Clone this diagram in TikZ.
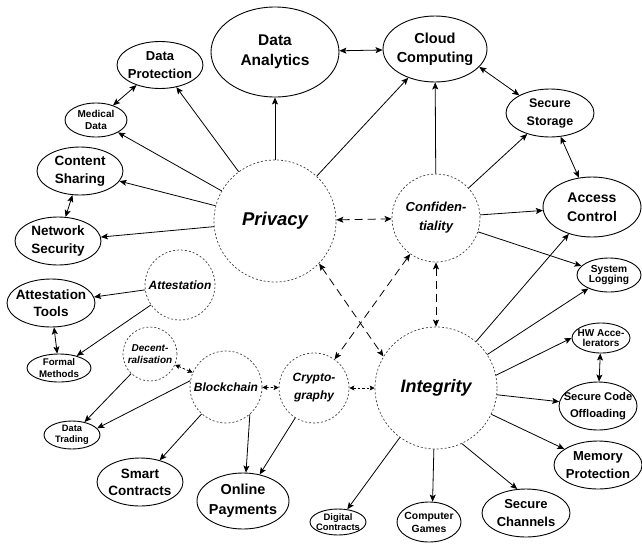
\documentclass[tikz,border=0pt]{standalone}
\usepackage{fontspec}
\setmainfont{Liberation Sans}
\usetikzlibrary{shapes.geometric,arrows.meta}
\newcommand\fsz[2]{\fontsize{#1}{#2}\selectfont}
\tikzset{
  ell/.style={ellipse, draw, line width=0.9pt, inner sep=-20pt, align=center, font=\bfseries},
  topic/.style={circle, draw=black!75, line width=0.7pt, dash pattern=on 2pt off 2pt, inner sep=-20pt, align=center, font=\bfseries\itshape},
  arr/.style={line width=0.8pt, -{Stealth[length=7pt,width=6pt,inset=1.5pt]}},
  darr/.style={line width=0.8pt, {Stealth[length=7pt,width=6pt,inset=1.5pt]}-{Stealth[length=7pt,width=6pt,inset=1.5pt]}},
  dasharr/.style={line width=0.8pt, dash pattern=on 8pt off 5pt, {Stealth[length=7pt,width=6pt,inset=1.5pt]}-{Stealth[length=7pt,width=6pt,inset=1.5pt]}},
  dotarr/.style={line width=0.8pt, dash pattern=on 2.5pt off 2pt, {Stealth[length=5pt,width=5pt,inset=1pt]}-{Stealth[length=5pt,width=5pt,inset=1pt]}},
}
\begin{document}
\begin{tikzpicture}[x=1pt,y=-1pt]
\useasboundingbox (0,0) rectangle (642,544);
% topic circles
\node[topic, minimum size=122pt, font=\bfseries\itshape\fsz{18.5}{22}] (priv) at (275,221) {Privacy};
\node[topic, minimum size=122pt, font=\bfseries\itshape\fsz{18}{22}] (integ) at (436,388) {Integrity};
\node[topic, minimum size=88pt, font=\bfseries\itshape\fsz{13}{19}] (conf) at (436,218) {Confiden-\\tiality};
\node[topic, minimum size=70pt, font=\bfseries\itshape\fsz{12}{14}] (att) at (180,285) {Attestation};
\node[topic, minimum size=54pt, font=\bfseries\itshape\fsz{10}{11.5}] (dec) at (150,354) {Decent-\\ralisation};
\node[topic, minimum size=72pt, font=\bfseries\itshape\fsz{12}{14}] (bc) at (226,387) {Blockchain};
\node[topic, minimum size=70pt, font=\bfseries\itshape\fsz{12}{18}] (cr) at (314,388) {Crypto-\\graphy};
% ellipses
\node[ell, minimum width=128pt, minimum height=90pt, font=\bfseries\fsz{15.5}{20}] (da) at (275,52) {Data\\Analytics};
\node[ell, minimum width=104pt, minimum height=66pt, font=\bfseries\fsz{14.5}{19}] (cc) at (435,49) {Cloud\\Computing};
\node[ell, minimum width=86pt, minimum height=47pt, font=\bfseries\fsz{13}{17.5}] (dp) at (160,65) {Data\\Protection};
\node[ell, minimum width=62pt, minimum height=34pt, font=\bfseries\fsz{10}{12}] (md) at (96,120) {Medical\\Data};
\node[ell, minimum width=86pt, minimum height=48pt, font=\bfseries\fsz{13.5}{18}] (cs) at (80,171) {Content\\Sharing};
\node[ell, minimum width=86pt, minimum height=48pt, font=\bfseries\fsz{13.5}{18}] (ns) at (58,241) {Network\\Security};
\node[ell, minimum width=88pt, minimum height=48pt, font=\bfseries\fsz{13.5}{17.5}] (at) at (51,303) {Attestation\\Tools};
\node[ell, minimum width=64pt, minimum height=28pt, font=\bfseries\fsz{9.7}{11.5}] (fm) at (59,368) {Formal\\Methods};
\node[ell, minimum width=88pt, minimum height=48pt, font=\bfseries\fsz{12.5}{18}] (ss) at (550,113) {Secure\\Storage};
\node[ell, minimum width=98pt, minimum height=60pt, font=\bfseries\fsz{14}{19.5}] (ac) at (592,207) {Access\\Control};
\node[ell, minimum width=64pt, minimum height=34pt, font=\bfseries\fsz{10.2}{10.5}] (sl) at (609,275) {System\\Logging};
\node[ell, minimum width=58pt, minimum height=30pt, font=\bfseries\fsz{10}{10.5}] (hw) at (601,338) {HW Acce-\\lerators};
\node[ell, minimum width=78pt, minimum height=48pt, font=\bfseries\fsz{11.2}{17}] (sco) at (598,406) {Secure Code\\Offloading};
\node[ell, minimum width=88pt, minimum height=48pt, font=\bfseries\fsz{13}{18}] (mp) at (598,465) {Memory\\Protection};
\node[ell, minimum width=88pt, minimum height=48pt, font=\bfseries\fsz{13}{18}] (sch) at (526,513) {Secure\\Channels};
\node[ell, minimum width=64pt, minimum height=40pt, font=\bfseries\fsz{10.4}{13}] (cg) at (429,522) {Computer\\Games};
\node[ell, minimum width=56pt, minimum height=26pt, font=\bfseries\fsz{9.4}{10}] (dc) at (338,522) {Digital\\Contracts};
\node[ell, minimum width=92pt, minimum height=56pt, font=\bfseries\fsz{14.4}{20}] (op) at (243,501) {Online\\Payments};
\node[ell, minimum width=86pt, minimum height=48pt, font=\bfseries\fsz{13.5}{17}] (sm) at (140,482) {Smart\\Contracts};
\node[ell, minimum width=56pt, minimum height=28pt, font=\bfseries\fsz{9.3}{10.5}] (dt) at (72,435) {Data\\Trading};
% privacy
\draw[arr] (priv) -- (da);
\draw[arr] (priv) -- (cc);
\draw[arr] (priv) -- (dp);
\draw[arr] (priv) -- (md);
\draw[arr] (priv) -- (cs);
\draw[arr] (priv) -- (ns);
\draw[darr] (dp) -- (md);
\draw[darr] (cs) -- (ns);
\draw[darr] (da) -- (cc);
\draw[darr] (cc.-22) -- (ss.150);
\draw[darr] (ss) -- (ac);
% confidentiality
\draw[arr] (conf) -- (cc);
\draw[arr] (conf) -- (ss);
\draw[arr] (conf) -- (ac);
\draw[arr] (conf) -- (sl);
% dashed relations
\draw[dasharr] (priv) -- (conf);
\draw[dasharr] (priv.-44) -- (integ.149);
\draw[dasharr] (conf) -- (cr);
\draw[dasharr] (conf) -- (integ);
% integrity
\draw[arr] (integ) -- (ac);
\draw[arr] (integ) -- (sl);
\draw[arr] (integ.12) -- (hw.west);
\draw[darr] (hw) -- (sco);
\draw[arr] (integ) -- (sco);
\draw[arr] (integ) -- (mp);
\draw[arr] (integ.-65) -- (sch.110);
\draw[arr] (integ.-92) -- (cg.80);
\draw[arr] (integ) -- (dc);
% dotted relations
\draw[dotarr] (cr) -- (integ);
\draw[dotarr] (bc) -- (cr);
\draw[dotarr] (dec) -- (bc);
% blockchain / crypto
\draw[arr] (cr) -- (op);
\draw[arr] (bc.-49) -- (op.84);
\draw[arr] (bc) -- (sm);
\draw[arr] (bc.170) -- (dt.15);
\draw[arr] (dec) -- (dt);
% attestation
\draw[arr] (att) -- (at);
\draw[arr] (att) -- (fm);
\draw[darr] (at) -- (fm);
\end{tikzpicture}
\end{document}
